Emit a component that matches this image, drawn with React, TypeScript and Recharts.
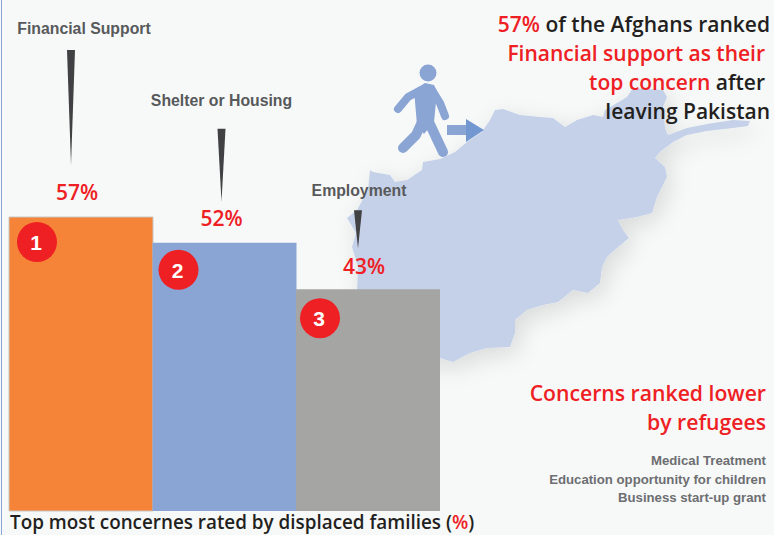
import React from "react";
import { BarChart, Bar, Cell, XAxis, YAxis, LabelList } from "recharts";

const categories = ["Financial Support", "Shelter or Housing", "Employment"];
const shares = [57, 52, 43];
const barColors = ["#f58439", "#8aa5d4", "#a5a5a4"];
const barStrokes = ["#c9c6c2", "none", "none"];
const lowerConcerns = [
  "Medical Treatment",
  "Education opportunity for children",
  "Business start-up grant",
];

const data = categories.map((name, i) => ({ name, share: shares[i] }));

const RED = "#ee2024";
const DARK = "#231f20";
const LABEL_FONT = "'Liberation Sans', Arial, sans-serif";
const HEAD_FONT = "'Open Sans', sans-serif";

// offsets from each bar's top-left corner
const callouts = [
  { pct: 68, pctY: -17, name: 75, nameY: -183, needleX: 62, needleTop: -167, needleEnd: -52, badgeX: 28, badgeY: 25 },
  { pct: 69, pctY: -17, name: 69, nameY: -137, needleX: 69, needleTop: -114, needleEnd: -41, badgeX: 26, badgeY: 27 },
  { pct: 68, pctY: -15, name: 63, nameY: -93, needleX: 62, needleTop: -79, needleEnd: -41, badgeX: 24, badgeY: 29 },
];

// outline of Afghanistan, bottom-left part hides behind the bars
const mapOutline =
  "357,290 358,267 352,247 356,233 347,218 357,210 368,190 370,170 373,172 390,175 395,182 407,180 422,170 423,162 440,159 455,152 467,142 482,132 490,120 495,110 503,109 520,115 540,117 553,118 565,127 577,120 593,115 603,117 605,110 617,103 627,97 633,88 663,90 667,97 663,107 665,128 668,135 687,128 707,124 733,120 750,121 748,126 733,128 707,131 687,135 673,142 660,152 655,158 665,167 667,177 657,197 652,213 637,217 618,220 623,230 629,238 617,248 607,257 602,267 600,283 588,293 573,290 558,302 543,305 527,310 515,320 515,333 510,347 487,348 470,353 453,362 440,358 357,362";

function Backdrop() {
  return (
    <svg width={774} height={535} style={{ position: "absolute", left: 0, top: 0 }}>
      <defs>
        <filter id="mapShadow" x="-20%" y="-20%" width="140%" height="140%">
          <feDropShadow dx={5} dy={7} stdDeviation={11} floodColor="#000" floodOpacity={0.12} />
        </filter>
      </defs>
      <rect x={0} y={0} width={774} height={535} fill="#f7f9f9" />
      <rect x={1} y={0} width={1} height={535} fill="#8aa5d4" />
      <polygon points={mapOutline} fill="#c5d1e8" filter="url(#mapShadow)" />
      {/* walker */}
      <g stroke="#8aa5d4" strokeLinecap="round" strokeLinejoin="round" fill="none">
        <polyline points="421,90 408,97 398,109" strokeWidth={8} />
        <polyline points="432,90 440,103 445,116" strokeWidth={8} />
        <polyline points="422,122 416,135 403,148" strokeWidth={10} />
        <polyline points="427,118 435,135 443,152" strokeWidth={10} />
      </g>
      <polygon points="414,90 425,83 434,85 437,92 434,122 424,134 417,125" fill="#8aa5d4" />
      <circle cx={428} cy={73} r={8.5} fill="#8aa5d4" />
      {/* arrow */}
      <rect x={447} y={125} width={19} height={10} fill="#8aa5d4" />
      <polygon points="466,119 484,130 466,142" fill="#7397d0" />
    </svg>
  );
}

function Callout(props: any) {
  const { x, y, index, value } = props;
  const c = callouts[index];
  const needleCx = x + c.needleX;
  return (
    <g>
      <text x={x + c.name} y={y + c.nameY} textAnchor="middle" fontFamily={LABEL_FONT} fontWeight={700} fontSize={15.8} fill="#58595b">
        {categories[index]}
      </text>
      <polygon
        points={`${needleCx - 4},${y + c.needleTop} ${needleCx + 4},${y + c.needleTop} ${needleCx},${y + c.needleEnd}`}
        fill="#414042"
      />
      <text x={x + c.pct} y={y + c.pctY} textAnchor="middle" fontFamily={HEAD_FONT} fontWeight={600} fontSize={21} fill={RED}>
        {value}%
      </text>
      <circle cx={x + c.badgeX} cy={y + c.badgeY} r={20} fill={RED} />
      <text x={x + c.badgeX - 1} y={y + c.badgeY + 8} textAnchor="middle" fontFamily={LABEL_FONT} fontWeight={700} fontSize={21} fill="#fff">
        {index + 1}
      </text>
    </g>
  );
}

function Annotations() {
  const head = { fontFamily: HEAD_FONT, fontWeight: 600, fontSize: 21, textAnchor: "end" as const };
  return (
    <svg width={774} height={535} style={{ position: "absolute", left: 0, top: 0, pointerEvents: "none" }}>
      <text x={770} y={32} {...head} fill={DARK}>
        <tspan fill={RED}>57%</tspan> of the Afghans ranked
      </text>
      <text x={765} y={61} {...head} fill={RED}>
        Financial support as their
      </text>
      <text x={765} y={90} {...head} fill={DARK}>
        <tspan fill={RED}>top concern</tspan> after
      </text>
      <text x={770} y={119} {...head} fill={DARK}>
        leaving Pakistan
      </text>
      <text x={766} y={401} {...head} fontSize={21.2} fill={RED}>
        Concerns ranked lower
      </text>
      <text x={766} y={430} {...head} fontSize={21.2} fill={RED}>
        by refugees
      </text>
      {lowerConcerns.map((t, i) => (
        <text key={t} x={766} y={465 + i * 18.5} textAnchor="end" fontFamily={LABEL_FONT} fontWeight={700} fontSize={13.2} fill="#6d6e71">
          {t}
        </text>
      ))}
      <text x={10} y={529} fontFamily={HEAD_FONT} fontWeight={600} fontSize={18.85} fill={DARK}>
        Top most concernes rated by displaced families (<tspan fill={RED}>%</tspan>)
      </text>
    </svg>
  );
}

export default function App() {
  return (
    <div style={{ position: "absolute", left: 0, top: 0, width: 774, height: 535, overflow: "hidden" }}>
      <Backdrop />
      <div style={{ position: "absolute", left: 0, top: 0 }}>
        <BarChart
          width={774}
          height={535}
          data={data}
          barCategoryGap={0}
          margin={{ top: 217, right: 334.5, bottom: 24, left: 9 }}
        >
          <XAxis dataKey="name" hide />
          <YAxis hide domain={[0, 57]} />
          <Bar dataKey="share" isAnimationActive={false}>
            {data.map((d, i) => (
              <Cell key={d.name} fill={barColors[i]} stroke={barStrokes[i]} />
            ))}
            <LabelList dataKey="share" content={<Callout />} />
          </Bar>
        </BarChart>
      </div>
      <Annotations />
    </div>
  );
}
